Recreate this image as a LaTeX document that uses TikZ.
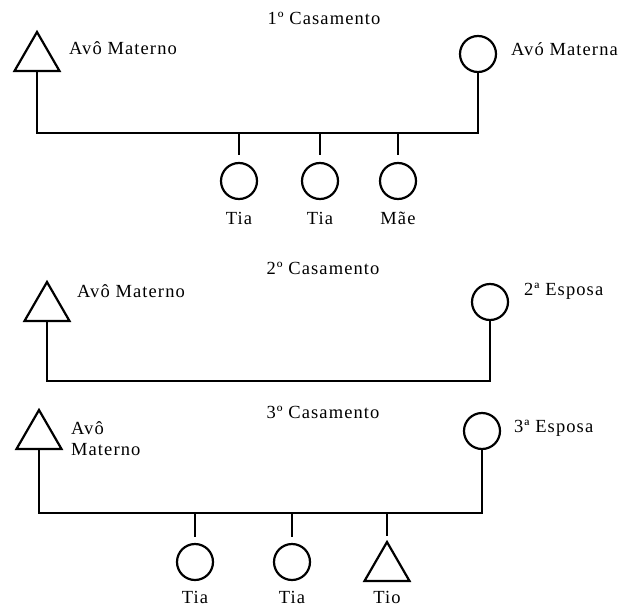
\documentclass[tikz,border=0pt]{standalone}
\usepackage{fontspec}
\setmainfont{Liberation Serif}[LetterSpace=6]
\usetikzlibrary{shapes.geometric}
\begin{document}
\begin{tikzpicture}[
x=1pt,y=-1pt,
line width=2.2pt,
font=\fontsize{18.5}{21}\selectfont,
fem/.style={%
draw,
circle,
minimum size=36pt,
inner sep=0pt
},
masc/.style={%
draw,
regular polygon,
regular polygon sides=3,
minimum size=52pt,
inner sep=0pt
},
lbl/.style={%
inner sep=0pt
}
]
\useasboundingbox(0,0)rectangle(631,607);
%% 1º casamento
\node[lbl]at(324,18)(cas1){1º Casamento};
\node[masc]at(37,58)(avo1){};
\node[lbl,anchor=west]at(68,48)(lavo1){Avô Materno};
\node[fem]at(478,54)(ava1){};
\node[lbl,anchor=west]at(510,49)(lava1){Avó Materna};
\coordinate(l1)at(0,133);
\draw(avo1.south)--(avo1.south|-l1)-|(ava1.south);
%% filhos
\node[fem]at(239,181)(tia11){};
\node[fem]at(320,181)(tia12){};
\node[fem]at(398,181)(mae){};
\node[lbl]at(239,218)(ltia11){Tia};
\node[lbl]at(320,218)(ltia12){Tia};
\node[lbl]at(398,218)(lmae){Mãe};
\draw(tia11.north|-l1)--([yshift=7pt]tia11.north);
\draw(tia12.north|-l1)--([yshift=7pt]tia12.north);
\draw(mae.north|-l1)--([yshift=7pt]mae.north);
%% 2º casamento
\node[lbl]at(323,268)(cas2){2º Casamento};
\node[masc]at(47,308)(avo2){};
\node[lbl,anchor=west]at(76,291)(lavo2){Avô Materno};
\node[fem]at(490,302)(esp2){};
\node[lbl,anchor=west]at(523,291)(lesp2){2ª Esposa};
\coordinate(l2)at(0,381);
\draw(avo2.south)--(avo2.south|-l2)-|(esp2.south);
%% 3º casamento
\node[lbl]at(323,412)(cas3){3º Casamento};
\node[masc]at(39,436)(avo3){};
\node[lbl,anchor=north west,align=left]at(70,421)(lavo3){Avô\\Materno};
\node[fem]at(482,431)(esp3){};
\node[lbl,anchor=west]at(513,428)(lesp3){3ª Esposa};
\coordinate(l3)at(0,513);
\draw(avo3.south)--(avo3.south|-l3)-|(esp3.south);
%% filhos
\node[fem]at(195,562)(tia31){};
\node[fem]at(292,562)(tia32){};
\node[masc]at(387,568)(tio){};
\node[lbl]at(195,597)(ltia31){Tia};
\node[lbl]at(292,597)(ltia32){Tia};
\node[lbl]at(387,597)(ltio){Tio};
\draw(tia31.north|-l3)--([yshift=6pt]tia31.north);
\draw(tia32.north|-l3)--([yshift=6pt]tia32.north);
\draw(tio.north|-l3)--([yshift=4pt]tio.north);
\end{tikzpicture}
\end{document}
